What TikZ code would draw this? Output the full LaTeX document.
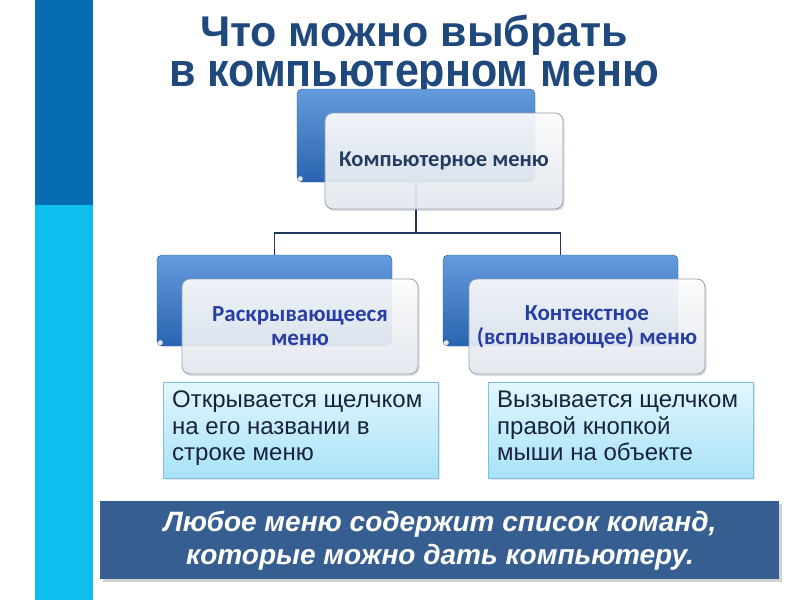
\documentclass[tikz,border=0pt]{standalone}
\usepackage{fontspec}
\setmainfont{Liberation Sans}
\newfontfamily\calibri{Carlito}
\usetikzlibrary{shadows,calc}
\definecolor{barDark}{RGB}{8,108,178}
\definecolor{barLight}{RGB}{14,190,238}
\definecolor{titleBlue}{RGB}{31,73,125}
\definecolor{backTop}{RGB}{100,155,220}
\definecolor{backBot}{RGB}{42,100,176}
\definecolor{frontBot}{RGB}{228,234,241}
\definecolor{frontEdge}{RGB}{150,160,175}
\definecolor{lineNavy}{RGB}{30,55,95}
\definecolor{topText}{RGB}{36,60,96}
\definecolor{subText}{RGB}{40,62,165}
\definecolor{noteTop}{RGB}{226,247,253}
\definecolor{noteBot}{RGB}{168,226,248}
\definecolor{noteBorder}{RGB}{125,195,225}
\definecolor{noteText}{RGB}{25,35,60}
\definecolor{bannerBlue}{RGB}{54,94,145}
\tikzset{
  backbox/.style={rounded corners=5pt, top color=backTop, bottom color=backBot,
    draw=backBot!85!black, line width=0.4pt, inner sep=0pt},
  frontbox/.style={rounded corners=8pt, top color=white, bottom color=frontBot,
    draw=frontEdge, line width=0.8pt, fill opacity=0.9, text opacity=1,
    drop shadow={shadow xshift=1.5pt, shadow yshift=-2pt, opacity=0.25},
    inner sep=0pt, align=center},
  conn/.style={draw=lineNavy, line width=1.4pt},
  curl/.style={fill=white, opacity=0.85},
  notebox/.style={top color=noteTop, bottom color=noteBot, draw=noteBorder,
    line width=0.6pt, inner sep=0pt,
    drop shadow={shadow xshift=1.5pt, shadow yshift=-1.5pt, opacity=0.2}},
  notetext/.style={align=left, inner sep=0pt, text=noteText,
    font=\fontsize{24}{26.5}\selectfont},
  titletext/.style={inner sep=0pt, align=center, text=titleBlue,
    font=\fontsize{43}{40}\selectfont\bfseries},
  toptext/.style={text=topText, font=\calibri\bfseries\fontsize{22.5}{25}\selectfont},
  subtextstyle/.style={text=subText, font=\calibri\bfseries\fontsize{23}{24}\selectfont},
  bannerbox/.style={fill=bannerBlue, inner sep=0pt,
    drop shadow={shadow xshift=2.5pt, shadow yshift=-2.5pt, opacity=0.35}},
  bannertext/.style={align=center, inner sep=0pt, text=white,
    font=\fontsize{28}{33}\selectfont\bfseries\itshape},
}
\begin{document}
\begin{tikzpicture}[x=1pt,y=-1pt]
\useasboundingbox (0,0) rectangle (800,600);
\fill[white] (0,0) rectangle (800,600);
% left bar
\fill[barDark] (35,0) rectangle (93,205);
\fill[barLight] (35,205) rectangle (93,600);
% title
\node[titletext, anchor=north] (title) at (414,14.5) {Что можно выбрать\\\scalebox{1}[1.1]{в компьютерном меню}};
% back boxes
\node[backbox, minimum width=238pt, minimum height=93pt] (tb) at (416,135.5) {};
\node[backbox, minimum width=235pt, minimum height=91pt] (lb) at (274.5,300.5) {};
\node[backbox, minimum width=235pt, minimum height=91pt] (rb) at (560.5,300.5) {};
\foreach \b in {tb,lb,rb}{\fill[curl] ($(\b.south west)+(3.5,-3.5)$) circle (2.5pt);}
% connectors
\coordinate (j) at (416,233);
\draw[conn] (tb.south) -- (j);
\draw[conn] (lb.north) |- (j) -| (rb.north);
% front boxes
\node[frontbox, minimum width=238pt, minimum height=96pt, toptext] (tf) at (444,161) {Компьютерное меню};
\node[frontbox, minimum width=236pt, minimum height=95pt, subtextstyle] (lf) at (300,326.5) {Раскрывающееся\\меню};
\node[frontbox, minimum width=236pt, minimum height=95pt, subtextstyle] (rf) at (587,326.5) {Контекстное\\(всплывающее) меню};
% notes
\node[notebox, minimum width=275pt, minimum height=96pt] (ln) at (300.5,430) {};
\node[notebox, minimum width=265pt, minimum height=96pt] (rn) at (620.5,430) {};
\node[notetext, anchor=north west] (lnt) at (172,391) {Открывается щелчком\\на его названии в\\строке меню};
\node[notetext, anchor=north west] (rnt) at (497,391) {Вызывается щелчком\\правой кнопкой\\мыши на объекте};
% banner
\node[bannerbox, minimum width=679pt, minimum height=78pt] (bn) at (439.5,540) {};
\node[bannertext] (bt) at (440,541) {Любое меню содержит список команд,\\которые можно дать компьютеру.};
\end{tikzpicture}
\end{document}
